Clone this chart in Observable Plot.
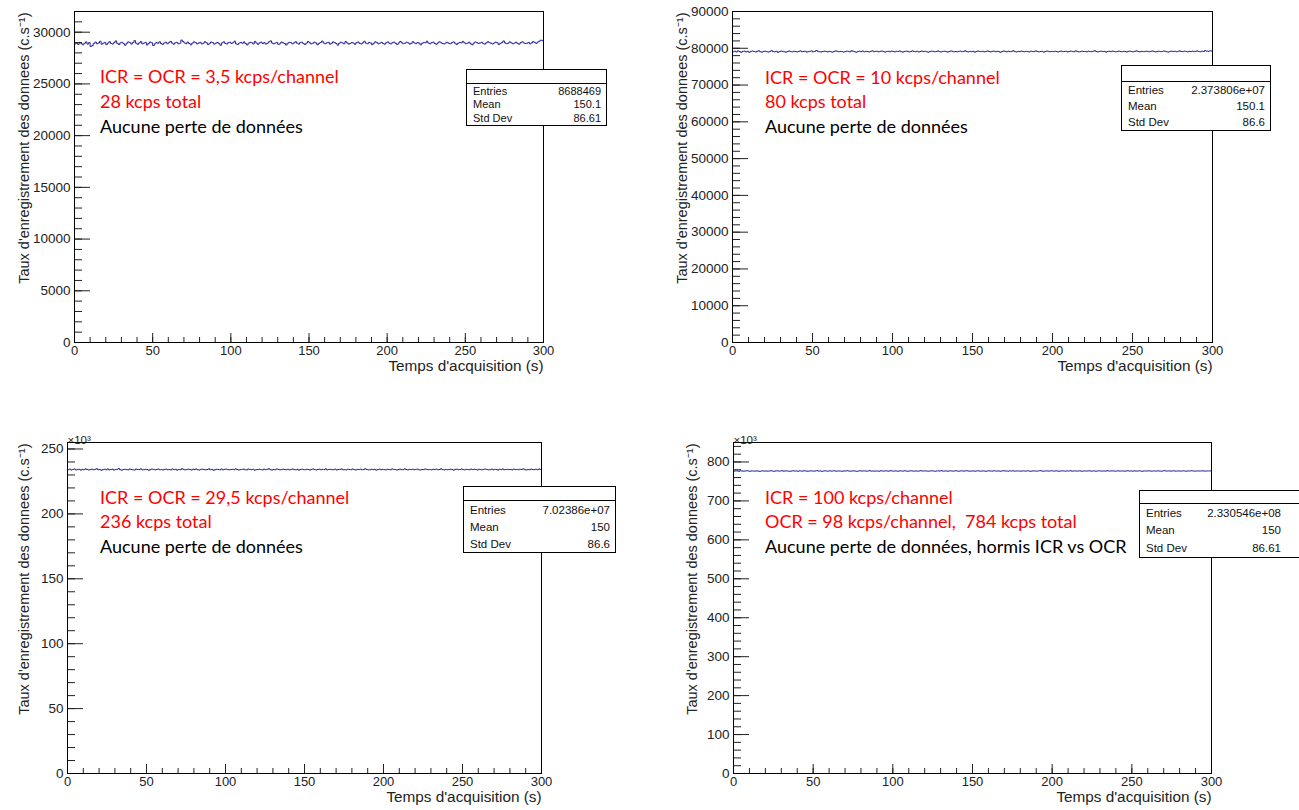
<!DOCTYPE html>
<html>
<head>
<meta charset="utf-8">
<script src="https://cdn.jsdelivr.net/npm/d3@7"></script>
<script src="https://cdn.jsdelivr.net/npm/@observablehq/plot@0.6"></script>
<style>
  body { margin: 0; background: #fff; }
  #root { position: relative; width: 1299px; height: 810px; overflow: hidden; background: #fff; }
  #root svg.plotpanel { position: absolute; }
  .note { position: absolute; font-family: Lato, "Open Sans", sans-serif; font-size: 18px; line-height: 18px; white-space: pre; }
  .stats { position: absolute; background: #fff; border: 1px solid #000; box-sizing: border-box;
           font-family: "Liberation Sans", Arial, sans-serif; color: #111; z-index: 5; }
  .stats .title { border-bottom: 1px solid #000; box-sizing: border-box; }
  .stats .row { display: flex; justify-content: space-between; align-items: center; padding-left: 6px; }
</style>
</head>
<body>
<div id="root"></div>
<script>
// ---------- data ----------
const xTicks = [0, 50, 100, 150, 200, 250, 300];
const xTitle = "Temps d'acquisition (s)";
const yTitle = "Taux d'enregistrement des donnees (c.s\u207B\u00B9)";

// Panel 1 : counts per 1 s bin (c/s)
const rate1 = [
28870,28950,28820,29010,28900,28780,28930,29060,28850,28990,28620,28700,28910,29040,28880,28960,29120,28840,28930,29010,
28790,28950,29080,28900,28860,28990,29150,28920,28810,28970,29020,28880,28740,28930,29060,28990,28850,29000,29180,28940,
28830,28960,29090,28870,28950,29010,28760,28920,29050,28980,28700,28870,28990,28930,29070,28900,28820,28960,29030,28880,
28990,29110,28950,28840,28970,29020,28880,28930,29240,29100,28960,28890,29040,28910,28780,28940,29060,28990,28870,28950,
29020,28860,28930,29080,28970,28800,28920,29050,28990,28850,28940,29010,28890,28740,28960,29070,28920,28860,28990,29030,
28910,28980,29130,28870,28820,28950,29000,28930,29060,28890,28770,28940,29020,28980,28860,29110,28950,28830,28970,29040,
28900,28990,28850,28930,29070,29160,28960,28880,28940,29010,28820,28890,29050,28970,28910,28760,28930,29020,28990,28870,
28960,29080,28940,28850,28990,29030,28900,28810,28950,29100,28980,28870,28930,29040,28960,28790,28920,29010,29140,28950,
28880,28970,29020,28840,28930,29060,28990,28900,28750,28940,29030,28960,28880,29090,28970,28850,28920,29000,28940,28830,
28990,29050,28910,28860,28970,29120,28940,28880,29010,28960,28800,28930,29070,28990,28870,28950,29020,28900,28840,28980,
29060,28930,28870,28990,29040,28920,28810,28960,29100,28980,28890,28940,29030,28970,28850,28920,29080,28960,28890,29000,
28940,28780,28920,29010,28970,29130,28950,28880,28990,29040,28910,28830,28960,29070,28990,28900,28860,28950,29020,28930,
28870,28990,29060,28940,28820,28930,29000,28960,29110,28980,28890,28940,29030,28870,28780,28950,29050,28990,28910,28960,
29020,28900,28850,28970,29080,28990,28930,28860,28950,29040,28980,28810,28920,29000,29150,28960,28890,28940,29060,28970,
28880,28950,29030,28910,28840,28990,29070,28960,28900,28930,29010,28870,28960,29090,28990,28920,29050,29140,29230,29180
];
// Panel 2 (c/s)
const rate2 = [
79050,79210,78980,79300,79120,78890,79160,79240,79010,79180,78920,79090,79270,79140,79000,79190,79330,79060,78950,79150,
79230,79080,78970,79140,79360,79110,79020,79190,78880,79100,79250,79170,79040,78930,79120,79280,79090,79010,79200,79130,
78990,79160,79310,79070,79140,79220,78950,79080,79190,79260,79030,79150,79400,79180,79060,78980,79120,79240,79100,79010,
79170,79090,78940,79130,79290,79200,79050,79160,79110,78970,79080,79230,79150,79020,79340,79190,79070,78910,79140,79210,
79100,79250,79040,79180,79120,78990,79160,79300,79080,79140,79210,79030,79170,79260,79090,78960,79130,79190,79050,79240,
79150,79020,79190,79110,79270,79080,78950,79130,79220,79160,79010,79100,79310,79140,79060,79200,78980,79120,79250,79090,
79180,79060,78930,79140,79230,79170,79040,79110,79290,79080,79000,79150,79210,79130,78970,79100,79260,79190,79050,79120,
79030,79160,79240,79090,79150,79320,79110,79000,79170,79080,79200,78940,79130,79250,79160,79070,79180,79020,79140,79280,
79120,79010,79150,79230,79060,79190,79130,78900,79100,79270,79170,79040,79210,79090,79150,79330,79110,78990,79160,79080,
79240,79130,79050,79170,79100,79000,79220,79140,79080,79300,79160,79030,79120,79190,78960,79110,79250,79170,79060,79140,
79090,79200,79120,78980,79150,79260,79070,79130,79180,79020,79110,79240,79150,79050,79290,79170,79030,79100,79210,79120,
79160,79040,79230,79110,79070,79180,79350,79130,79000,79150,79220,79090,79160,78950,79120,79200,79080,79260,79140,79030,
79110,79250,79140,79060,79190,79120,78990,79170,79240,79100,79050,79160,79310,79130,79020,79180,79110,79070,79220,79150,
79040,79170,79280,79120,79000,79150,79210,79090,79130,79260,79180,79060,78970,79140,79230,79110,79190,79050,79160,79300,
79130,79080,79210,79150,79020,79180,79120,79240,79090,79160,79290,79110,79050,79200,79140,79370,79220,79160,79310,79250
];
// Panel 3 (x10^3 c/s)
const rate3 = [
234.0,234.5,233.8,234.2,234.6,233.9,234.1,234.4,233.7,234.3,234.0,234.7,234.2,233.8,234.1,234.5,233.9,234.3,234.8,234.0,
234.2,233.6,234.1,234.4,234.0,234.6,233.9,234.2,234.5,233.8,234.1,234.3,234.9,234.0,233.7,234.2,234.4,234.1,233.9,234.6,
234.3,234.0,233.8,234.5,234.2,234.1,234.7,233.9,234.0,234.4,234.2,233.6,234.1,234.5,234.3,233.9,234.2,234.6,234.0,234.1,
233.8,234.3,234.5,234.0,234.2,233.9,234.6,234.1,234.4,233.7,234.2,234.0,234.8,234.3,233.9,234.1,234.5,234.2,233.8,234.4,
234.1,234.6,234.0,233.8,234.3,234.5,234.1,233.9,234.2,234.7,234.0,234.3,233.6,234.1,234.4,234.2,234.0,234.6,233.9,234.3,
234.5,234.1,233.9,234.2,234.4,234.0,234.7,234.2,233.8,234.1,234.3,234.5,234.0,233.9,234.6,234.2,234.1,234.4,233.7,234.0,
234.2,234.4,234.1,233.9,234.5,234.0,234.3,234.8,234.1,233.8,234.2,234.0,234.6,234.3,233.9,234.1,234.5,234.2,234.0,234.4,
233.9,234.2,234.6,234.1,234.0,234.3,233.7,234.2,234.5,234.1,234.0,234.4,234.2,233.8,234.3,234.6,234.1,233.9,234.2,234.5,
234.0,234.3,234.1,234.7,233.9,234.2,234.4,234.0,234.1,234.5,233.8,234.2,234.3,234.6,234.0,234.1,233.9,234.4,234.2,234.0,
234.6,234.1,233.8,234.3,234.2,234.5,234.0,234.1,234.8,234.2,233.9,234.0,234.4,234.1,234.3,233.7,234.2,234.5,234.0,234.3,
234.1,233.9,234.4,234.2,234.0,234.6,234.3,234.1,233.8,234.2,234.5,234.0,234.1,234.7,234.2,233.9,234.3,234.1,234.4,234.0,
234.3,234.5,234.0,233.8,234.2,234.1,234.6,234.3,234.0,234.2,233.9,234.4,234.1,234.5,234.0,234.2,234.8,234.1,233.9,234.3,
234.0,234.2,234.4,234.1,233.7,234.3,234.5,234.0,234.2,234.6,234.1,233.9,234.3,234.2,234.0,234.5,234.1,234.4,234.2,233.8,
234.4,234.1,234.0,234.3,234.6,234.2,233.9,234.1,234.5,234.0,234.3,234.2,233.8,234.4,234.1,234.6,234.0,234.2,234.3,234.1,
234.2,233.9,234.5,234.1,234.3,234.0,234.4,234.2,234.7,234.1,233.8,234.3,234.0,234.5,234.2,234.1,234.4,234.0,234.6,234.3
];
// Panel 4 (x10^3 c/s)
const rate4 = [
776.5,777.2,776.9,776.1,777.4,776.8,776.3,777.0,777.6,776.7,776.2,777.1,776.9,776.4,777.3,776.6,775.9,776.8,777.2,776.5,
777.0,776.4,776.8,777.5,776.7,776.1,776.9,777.3,776.5,776.8,777.7,776.3,776.9,777.1,776.6,776.0,776.8,777.4,776.7,776.9,
776.3,777.1,776.8,776.5,777.6,776.9,776.2,776.7,777.2,776.8,776.4,777.0,777.8,776.6,776.9,776.1,776.7,777.3,776.8,776.5,
777.2,776.6,776.9,777.4,776.3,776.8,777.0,776.5,776.2,777.1,776.8,777.5,776.7,776.4,776.9,777.2,776.6,776.0,776.8,777.3,
776.7,776.9,777.1,776.4,776.8,777.6,776.5,776.9,776.3,777.0,776.7,776.2,777.4,776.8,776.6,777.1,776.9,776.4,777.7,776.8,
776.5,777.0,776.8,776.3,777.2,776.9,776.6,777.5,776.7,776.1,776.9,777.3,776.8,776.5,777.0,776.4,776.8,777.6,776.7,776.9,
777.1,776.6,776.4,776.9,777.3,776.8,776.2,776.9,777.1,776.7,777.8,776.5,776.8,777.0,776.3,776.9,777.2,776.6,776.8,777.4,
776.8,776.3,777.0,777.2,776.6,776.9,777.5,776.7,776.4,776.8,777.1,776.2,776.9,777.3,776.7,776.5,777.0,776.8,776.1,776.9,
777.2,776.8,776.5,777.4,776.9,776.6,777.0,776.3,776.8,777.6,776.7,776.9,776.4,777.1,776.8,777.3,776.5,776.9,777.0,776.6,
776.4,777.1,776.8,776.6,777.3,776.9,776.2,776.8,777.2,776.7,776.5,777.0,777.7,776.8,776.3,776.9,777.1,776.6,776.8,777.4,
776.9,776.5,777.2,776.8,776.1,776.9,777.3,776.7,776.6,777.0,776.8,777.5,776.4,776.9,777.1,776.6,776.8,777.2,776.3,776.8,
777.0,776.7,776.9,777.4,776.5,776.8,777.1,776.2,776.9,777.3,776.8,776.6,777.0,776.4,777.6,776.8,776.7,777.1,776.9,776.5,
776.8,777.2,776.6,776.9,777.0,776.3,776.8,777.5,776.7,776.9,776.4,777.1,776.8,776.6,777.3,776.9,776.2,776.8,777.0,776.7,
777.3,776.8,776.5,777.0,776.9,776.6,777.2,776.8,776.4,776.9,777.7,776.7,776.8,777.1,776.5,776.9,777.3,776.6,776.8,777.0,
776.6,776.9,777.2,776.7,776.4,777.0,776.8,777.4,776.9,776.5,776.8,777.1,776.7,776.9,777.3,776.6,776.8,777.0,776.9,777.2
];

const yTicks1 = [0, 5000, 10000, 15000, 20000, 25000, 30000];
const yTicks2 = [0, 10000, 20000, 30000, 40000, 50000, 60000, 70000, 80000, 90000];
const yTicks3 = [0, 50, 100, 150, 200, 250];
const yTicks4 = [0, 100, 200, 300, 400, 500, 600, 700, 800];

const statLabels = ["Entries", "Mean", "Std Dev"];
const statEntries = ["8688469", "2.373806e+07", "7.02386e+07", "2.330546e+08"];
const statMeans   = ["150.1", "150.1", "150", "150"];
const statStd     = ["86.61", "86.6", "86.6", "86.61"];

const notes1 = ["ICR = OCR = 3,5 kcps/channel", "28 kcps total", "Aucune perte de données"];
const notes2 = ["ICR = OCR = 10 kcps/channel", "80 kcps total", "Aucune perte de données"];
const notes3 = ["ICR = OCR = 29,5 kcps/channel", "236 kcps total", "Aucune perte de données"];
const notes4 = ["ICR = 100 kcps/channel", "OCR = 98 kcps/channel,  784 kcps total", "Aucune perte de données, hormis ICR vs OCR"];
const noteColors = ["#ff0000", "#ff0000", "#000000"];
const expLabel = "\u00D710\u00B3";

// ---------- layout ----------
const BLUE = "#23239a";
const panels = [
  {vals: rate1, yTicks: yTicks1, yMax: 32000, yMinor: 1000, left: 0,   top: 0,   width: 650, height: 405, mL: 74, mR: 107, mT: 11, mB: 63, yDx: -56, exp: false,
   notes: notes1, noteX: 100, noteY: [76, 101, 126],
   box: {left: 466, top: 69, width: 141, titleH: 14, rowH: 13.5, fs: 11, padR: 5}},
  {vals: rate2, yTicks: yTicks2, yMax: 90000, yMinor: 2000, left: 650, top: 0,   width: 649, height: 405, mL: 82, mR: 87, mT: 11, mB: 63, yDx: -56, exp: false,
   notes: notes2, noteX: 765, noteY: [77, 101, 126],
   box: {left: 1121, top: 65, width: 150, titleH: 16, rowH: 16, fs: 11.5, padR: 5}},
  {vals: rate3, yTicks: yTicks3, yMax: 255, yMinor: 10, left: 0,   top: 405, width: 650, height: 405, mL: 67, mR: 109, mT: 37, mB: 37, yDx: -49, exp: true,
   notes: notes3, noteX: 100, noteY: [497, 521, 546],
   box: {left: 463, top: 486, width: 153, titleH: 14, rowH: 17, fs: 11.5, padR: 5}},
  {vals: rate4, yTicks: yTicks4, yMax: 850, yMinor: 20, left: 650, top: 405, width: 649, height: 405, mL: 83, mR: 88, mT: 37, mB: 37, yDx: -47, exp: true,
   notes: notes4, noteX: 765, noteY: [497, 521, 546],
   box: {left: 1139, top: 490, width: 175, titleH: 13, rowH: 17.5, fs: 11.5, padR: 32}}
];

const root = document.getElementById("root");
const fmt = d3.format("d");

panels.forEach((p, k) => {
  const pts = p.vals.map((v, i) => ({t: i, v}));
  pts.push({t: p.vals.length, v: p.vals[p.vals.length - 1]});
  const yMinorTicks = d3.range(0, p.yMax + 1e-9, p.yMinor);
  const xMinorTicks = d3.range(0, 301, 10);
  const marks = [
    Plot.line(pts, {x: "t", y: "v", curve: "step-after", stroke: BLUE, strokeWidth: 1}),
    Plot.axisX({ticks: xMinorTicks, tickSize: -5, tickPadding: 0, tickFormat: () => "", label: null}),
    Plot.axisX({ticks: xTicks, tickSize: -9, tickPadding: 12, tickFormat: fmt, label: null, fontSize: 13}),
    Plot.axisY({ticks: yMinorTicks, tickSize: -8, tickPadding: 0, tickFormat: () => "", label: null}),
    Plot.axisY({ticks: p.yTicks, tickSize: -16, tickPadding: 20, tickFormat: fmt, label: null, fontSize: 13.5}),
    Plot.frame({stroke: "#000"}),
    Plot.text([xTitle], {text: d => d, frameAnchor: "bottom-right", textAnchor: "end", dy: 28, fontSize: 15.3, fill: "#222"}),
    Plot.text([yTitle], {text: d => d, frameAnchor: "top-left", rotate: -90, textAnchor: "end", dx: p.yDx, dy: 1, fontSize: 14.5, fill: "#222"})
  ];
  if (p.exp) marks.push(Plot.text([expLabel], {text: d => d, frameAnchor: "top-left", textAnchor: "start", dx: 0, dy: -7, fontSize: 11.5, fill: "#222"}));
  const svg = Plot.plot({
    width: p.width, height: p.height,
    marginLeft: p.mL, marginRight: p.mR, marginTop: p.mT, marginBottom: p.mB,
    style: {fontFamily: '"Liberation Sans", Arial, sans-serif', fontSize: "13px", color: "#222", background: "transparent", overflow: "visible"},
    x: {domain: [0, 300], label: null},
    y: {domain: [0, p.yMax], label: null},
    marks
  });
  svg.classList.add("plotpanel");
  svg.style.left = p.left + "px";
  svg.style.top = p.top + "px";
  root.appendChild(svg);

  // annotation text
  p.notes.forEach((txt, j) => {
    const d = document.createElement("div");
    d.className = "note";
    d.textContent = txt;
    d.style.left = p.noteX + "px";
    d.style.top = (p.noteY[j] - 9) + "px";
    d.style.color = noteColors[j];
    root.appendChild(d);
  });

  // stats box
  const b = p.box;
  const box = document.createElement("div");
  box.className = "stats";
  box.style.left = b.left + "px";
  box.style.top = b.top + "px";
  box.style.width = b.width + "px";
  box.style.fontSize = b.fs + "px";
  const title = document.createElement("div");
  title.className = "title";
  title.style.height = b.titleH + "px";
  box.appendChild(title);
  const vals = [statEntries[k], statMeans[k], statStd[k]];
  statLabels.forEach((lab, j) => {
    const r = document.createElement("div");
    r.className = "row";
    r.style.height = b.rowH + "px";
    r.style.paddingRight = b.padR + "px";
    const a = document.createElement("span"); a.textContent = lab;
    const v = document.createElement("span"); v.textContent = vals[j];
    r.appendChild(a); r.appendChild(v);
    box.appendChild(r);
  });
  root.appendChild(box);
});
</script>
</body>
</html>
